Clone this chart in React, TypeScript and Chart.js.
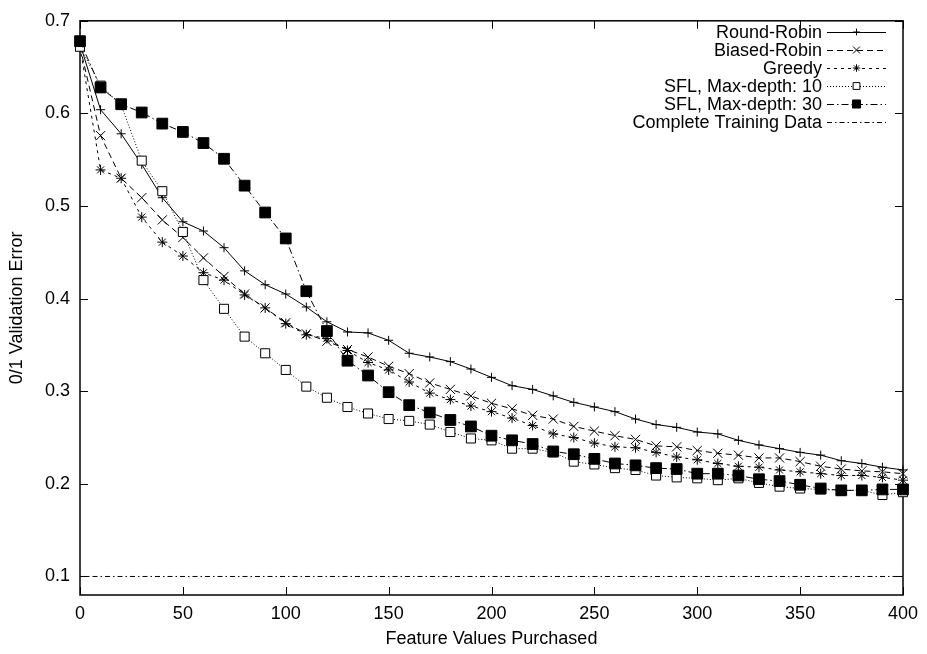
import React, { useEffect, useRef } from 'react';
import { Chart, registerables } from 'chart.js';
import { drawPoint } from 'chart.js/helpers';

Chart.register(...registerables);

// Budget: number of feature values purchased
const purchased = [
  0, 10, 20, 30, 40, 50, 60, 70, 80, 90, 100, 110, 120, 130, 140, 150, 160, 170, 180, 190, 200,
  210, 220, 230, 240, 250, 260, 270, 280, 290, 300, 310, 320, 330, 340, 350, 360, 370, 380, 390, 400,
];

const roundRobin = [
  0.675, 0.604, 0.578, 0.545, 0.509, 0.483, 0.473, 0.455, 0.430, 0.415, 0.405, 0.391, 0.375, 0.364,
  0.363, 0.355, 0.341, 0.337, 0.332, 0.324, 0.315, 0.306, 0.302, 0.295, 0.288, 0.283, 0.278, 0.270,
  0.264, 0.261, 0.256, 0.254, 0.247, 0.242, 0.238, 0.234, 0.231, 0.225, 0.222, 0.218, 0.215,
];

const biasedRobin = [
  0.672, 0.576, 0.530, 0.509, 0.485, 0.466, 0.444, 0.424, 0.405, 0.390, 0.374, 0.362, 0.354, 0.345,
  0.337, 0.327, 0.319, 0.309, 0.302, 0.295, 0.287, 0.281, 0.274, 0.270, 0.262, 0.257, 0.252, 0.248,
  0.241, 0.240, 0.236, 0.233, 0.231, 0.228, 0.228, 0.224, 0.219, 0.216, 0.214, 0.213, 0.211,
];

const greedy = [
  0.672, 0.539, 0.530, 0.488, 0.461, 0.446, 0.428, 0.420, 0.404, 0.390, 0.373, 0.361, 0.357, 0.344,
  0.331, 0.323, 0.310, 0.298, 0.291, 0.284, 0.278, 0.271, 0.263, 0.254, 0.250, 0.244, 0.240, 0.239,
  0.234, 0.229, 0.226, 0.222, 0.219, 0.218, 0.215, 0.213, 0.211, 0.209, 0.209, 0.207, 0.204,
];

const sflDepth10 = [
  0.672, 0.630, 0.609, 0.549, 0.516, 0.472, 0.420, 0.389, 0.359, 0.341, 0.323, 0.305, 0.293, 0.283,
  0.276, 0.270, 0.268, 0.264, 0.256, 0.249, 0.247, 0.238, 0.238, 0.234, 0.224, 0.221, 0.217, 0.215,
  0.209, 0.207, 0.206, 0.204, 0.206, 0.201, 0.197, 0.195, 0.194, 0.193, 0.193, 0.188, 0.191,
];

const sflDepth30 = [
  0.678, 0.628, 0.610, 0.601, 0.589, 0.580, 0.568, 0.551, 0.522, 0.493, 0.465, 0.408, 0.365, 0.333,
  0.317, 0.299, 0.285, 0.277, 0.269, 0.262, 0.252, 0.247, 0.243, 0.235, 0.232, 0.227, 0.222, 0.220,
  0.217, 0.216, 0.211, 0.211, 0.209, 0.205, 0.203, 0.199, 0.195, 0.193, 0.193, 0.194, 0.194,
];

// Baseline error with the complete training data
const completeX = [0, 400];
const completeY = [0.1, 0.1];

const xTicks = [0, 50, 100, 150, 200, 250, 300, 350, 400];
const yTicks = [0.1, 0.2, 0.3, 0.4, 0.5, 0.6, 0.7];

const FONT = '"Liberation Sans", Arial, Helvetica, sans-serif';
const INK = '#000';

const toPoints = (xs: number[], ys: number[]) => xs.map((x, i) => ({ x, y: ys[i] }));

// gnuplot-like frame with inward ticks on all four sides
const framePlugin = {
  id: 'frame',
  beforeDatasetsDraw(chart: any) {
    const { ctx, chartArea: a, scales } = chart;
    const len = 8;
    ctx.save();
    ctx.strokeStyle = INK;
    ctx.lineWidth = 1;
    ctx.beginPath();
    xTicks.forEach((v) => {
      const px = Math.round(scales.x.getPixelForValue(v)) + 0.5;
      ctx.moveTo(px, a.bottom);
      ctx.lineTo(px, a.bottom - len);
      ctx.moveTo(px, a.top);
      ctx.lineTo(px, a.top + len);
    });
    yTicks.forEach((v) => {
      const py = Math.round(scales.y.getPixelForValue(v)) + 0.5;
      ctx.moveTo(a.left, py);
      ctx.lineTo(a.left + len, py);
      ctx.moveTo(a.right, py);
      ctx.lineTo(a.right - len, py);
    });
    ctx.stroke();
    ctx.lineWidth = 1.5;
    ctx.strokeRect(a.left, a.top, a.right - a.left, a.bottom - a.top);
    ctx.restore();
  },
};

// Key in the upper right: right-aligned names, then a line sample with its marker
const keyPlugin = {
  id: 'key',
  afterDraw(chart: any) {
    const { ctx } = chart;
    const textRight = 822;
    const lineStart = 827;
    const lineEnd = 886;
    const top = 32;
    const rowGap = 18;
    ctx.save();
    ctx.font = `18px ${FONT}`;
    ctx.fillStyle = INK;
    ctx.textAlign = 'right';
    ctx.textBaseline = 'middle';
    chart.data.datasets.forEach((ds: any, i: number) => {
      const y = top + i * rowGap;
      ctx.fillText(ds.label, textRight, y + 1);
      ctx.save();
      ctx.strokeStyle = INK;
      ctx.lineWidth = 1;
      ctx.setLineDash(ds.borderDash || []);
      ctx.beginPath();
      ctx.moveTo(lineStart, y + 0.5);
      ctx.lineTo(lineEnd, y + 0.5);
      ctx.stroke();
      ctx.restore();
      if (ds.pointRadius > 0) {
        ctx.save();
        ctx.setLineDash([]);
        ctx.lineWidth = 1;
        ctx.strokeStyle = INK;
        ctx.fillStyle = ds.pointBackgroundColor;
        drawPoint(
          ctx,
          { pointStyle: ds.pointStyle, rotation: 0, radius: ds.pointRadius * 0.75, borderWidth: 1 },
          (lineStart + lineEnd) / 2,
          y
        );
        ctx.restore();
      }
    });
    ctx.restore();
  },
};

function makeSeries(label: string, ys: number[], dash: number[], style: string, radius: number, fill: string, order: number) {
  return {
    label,
    data: toPoints(purchased, ys),
    borderColor: INK,
    borderWidth: 1,
    borderDash: dash,
    pointStyle: style,
    pointRadius: radius,
    pointBorderColor: INK,
    pointBorderWidth: 1,
    pointBackgroundColor: fill,
    pointHoverRadius: radius,
    fill: false,
    tension: 0,
    clip: false as const,
    order,
  };
}

export default function App() {
  const canvasRef = useRef<HTMLCanvasElement | null>(null);

  useEffect(() => {
    if (!canvasRef.current) return;
    const chart = new Chart(canvasRef.current, {
      type: 'line',
      data: {
        datasets: [
          makeSeries('Round-Robin', roundRobin, [], 'cross', 4.5, INK, 6),
          makeSeries('Biased-Robin', biasedRobin, [6, 4], 'crossRot', 6.5, INK, 5),
          makeSeries('Greedy', greedy, [3, 4], 'star', 5, INK, 4),
          makeSeries('SFL, Max-depth: 10', sflDepth10, [1, 2], 'rect', 6.4, '#fff', 3),
          makeSeries('SFL, Max-depth: 30', sflDepth30, [7, 3, 1.5, 3], 'rect', 7.6, INK, 2),
          {
            label: 'Complete Training Data',
            data: toPoints(completeX, completeY),
            borderColor: INK,
            borderWidth: 1,
            borderDash: [5, 3, 1.5, 3],
            pointRadius: 0,
            pointHoverRadius: 0,
            fill: false,
            order: 1,
          } as any,
        ],
      },
      options: {
        animation: false,
        responsive: false,
        maintainAspectRatio: false,
        events: [],
        layout: { padding: { left: 0, top: 13, right: 24, bottom: 0 } },
        plugins: {
          legend: { display: false },
          tooltip: { enabled: false },
        },
        scales: {
          x: {
            type: 'linear',
            min: 0,
            max: 400,
            afterBuildTicks: (s: any) => {
              s.ticks = xTicks.map((v) => ({ value: v }));
            },
            afterFit: (s: any) => {
              s.height = 59;
            },
            grid: { display: false, drawTicks: false },
            border: { display: false },
            ticks: {
              color: INK,
              font: { family: FONT, size: 18 },
              padding: 8,
              maxRotation: 0,
              autoSkip: false,
              callback: (v: any) => String(v),
            },
            title: {
              display: true,
              text: 'Feature Values Purchased',
              color: INK,
              font: { family: FONT, size: 18, lineHeight: 1.2 },
              padding: { top: 0, bottom: 4 },
            },
          },
          y: {
            type: 'linear',
            min: 0.08,
            max: 0.7,
            afterBuildTicks: (s: any) => {
              s.ticks = yTicks.map((v) => ({ value: v }));
            },
            afterFit: (s: any) => {
              s.width = 80;
            },
            grid: { display: false, drawTicks: false },
            border: { display: false },
            ticks: {
              color: INK,
              font: { family: FONT, size: 18 },
              padding: 10,
              autoSkip: false,
              callback: (v: any) => Number(v).toFixed(1),
            },
            title: {
              display: true,
              text: '0/1 Validation Error',
              color: INK,
              font: { family: FONT, size: 18, lineHeight: 1.2 },
              padding: { top: 6, bottom: 0 },
            },
          },
        },
      },
      plugins: [framePlugin, keyPlugin],
    } as any);
    return () => chart.destroy();
  }, []);

  return (
    <div style={{ position: 'fixed', left: 0, top: 0, width: 927, height: 654, background: '#fff' }}>
      <canvas ref={canvasRef} width={927} height={654} style={{ display: 'block', width: 927, height: 654 }} />
    </div>
  );
}
